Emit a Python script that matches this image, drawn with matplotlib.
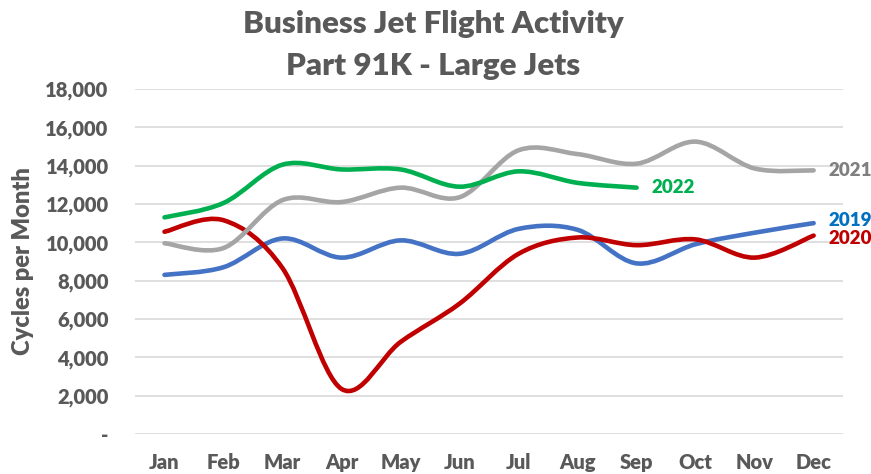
import numpy as np
import matplotlib
matplotlib.use("Agg")
import matplotlib.pyplot as plt
from matplotlib.path import Path
from matplotlib.patches import PathPatch

# ================================
# data
# ================================
months = ["Jan", "Feb", "Mar", "Apr", "May", "Jun",
          "Jul", "Aug", "Sep", "Oct", "Nov", "Dec"]
y2019 = [8300, 8700, 10200, 9200, 10100, 9400, 10700, 10650, 8900, 9900, 10500, 11000]
y2020 = [10550, 11150, 8650, 2350, 4800, 6800, 9400, 10250, 9850, 10150, 9200, 10350]
y2021 = [9950, 9700, 12200, 12100, 12850, 12350, 14800, 14600, 14100, 15250, 13850, 13750]
y2022 = [11300, 12050, 14050, 13800, 13800, 12900, 13700, 13100, 12850]
yticks = [0, 2000, 4000, 6000, 8000, 10000, 12000, 14000, 16000, 18000]

TEXT = "#595959"
FONT = "Lato"
W = "heavy"


def smooth_path(vals):
    # excel-like smoothed line: cubic bezier through each point
    pts = np.column_stack([np.arange(len(vals)), np.asarray(vals, float)])
    verts = [pts[0]]
    codes = [Path.MOVETO]
    n = len(pts)
    for i in range(n - 1):
        p0 = pts[max(i - 1, 0)]
        p1 = pts[i]
        p2 = pts[i + 1]
        p3 = pts[min(i + 2, n - 1)]
        c1 = p1 + (p2 - p0) / 6.0
        c2 = p2 - (p3 - p1) / 6.0
        verts += [c1, c2, p2]
        codes += [Path.CURVE4] * 3
    return Path(verts, codes)


fig = plt.figure(figsize=(8.71, 4.74), dpi=100)
ax = fig.add_axes([0.155, 0.0844, 0.813, 0.728])

series = [
    (y2019, "#4472C4"),
    (y2020, "#C00000"),
    (y2021, "#A5A5A5"),
    (y2022, "#00B050"),
]
for vals, col in series:
    ax.add_patch(PathPatch(smooth_path(vals), facecolor="none", edgecolor=col,
                           lw=3.3, capstyle="round", joinstyle="round", zorder=3))

ax.set_xlim(-0.5, len(months) - 0.5)
ax.set_ylim(0, 18000)
ax.set_xticks(range(len(months)))
ax.set_xticklabels(months)
ax.set_yticks(yticks)
ax.set_yticklabels(["-" if v == 0 else f"{v:,}" for v in yticks])
ax.grid(axis="y", color="#D9D9D9", lw=1.2)
ax.set_axisbelow(True)
for s in ax.spines.values():
    s.set_visible(False)
ax.tick_params(length=0, labelcolor=TEXT, labelsize=14.5)
ax.tick_params(axis="x", pad=14)
ax.tick_params(axis="y", pad=19)
for lab in ax.get_xticklabels() + ax.get_yticklabels():
    lab.set_fontweight(W)
    lab.set_fontfamily(FONT)
ax.set_ylabel("Cycles per Month", fontsize=17, fontweight=W, color=TEXT,
              family=FONT, labelpad=8)

# series labels at the line ends
ax.text(11.25, y2021[-1], "2021", color="#7F7F7F", fontsize=13.5, fontweight=W,
        family=FONT, va="center", ha="left")
ax.text(11.25, y2019[-1] + 150, "2019", color="#0070C0", fontsize=13.5, fontweight=W,
        family=FONT, va="center", ha="left")
ax.text(11.25, y2020[-1] - 150, "2020", color="#C00000", fontsize=13.5, fontweight=W,
        family=FONT, va="center", ha="left")
ax.text(len(y2022) - 1 + 0.25, y2022[-1], "2022", color="#00B050", fontsize=13.5,
        fontweight=W, family=FONT, va="center", ha="left")

fig.text(0.497, 0.950, "Business Jet Flight Activity", ha="center", va="center",
         fontsize=22.5, fontweight=W, color=TEXT, family=FONT)
fig.text(0.497, 0.860, "Part 91K - Large Jets", ha="center", va="center",
         fontsize=22.5, fontweight=W, color=TEXT, family=FONT)

fig.savefig("out.png", dpi=100)
